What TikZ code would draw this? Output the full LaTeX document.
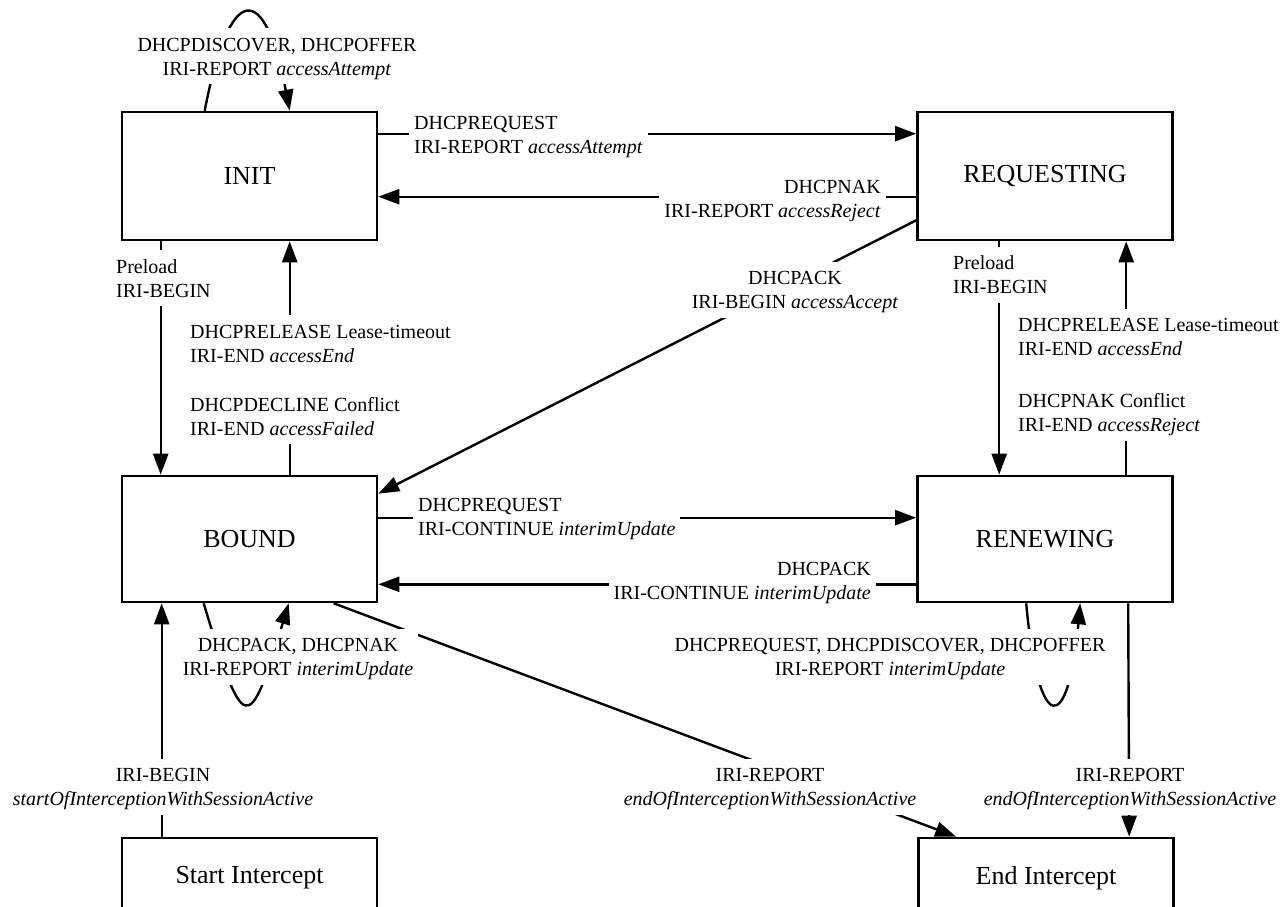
\documentclass[tikz,border=0pt]{standalone}
\usepackage{fontspec}
\setmainfont{Liberation Serif}
\usetikzlibrary{arrows.meta,calc}
\newcommand\ltop{\rule{0pt}{21pt}}
\newcommand\lbot{\rule[-7pt]{0pt}{7pt}}
\begin{document}
\begin{tikzpicture}[x=1pt,y=-1pt,
  box/.style={draw, line width=2.6pt, minimum width=255pt, minimum height=128pt, inner sep=0pt, font=\fontsize{26}{30}\selectfont},
  lbl/.style={fill=white, inner xsep=5pt, inner ysep=2pt, font=\fontsize{20}{24}\selectfont},
  arr/.style={line width=2.4pt, -{Triangle[length=21pt,width=15pt]}},
]
\useasboundingbox (0,0) rectangle (1288,907);
% states
\node[box] (init) at (249.5,176) {INIT};
\node[box] (req) at (1045,176) {REQUESTING};
\node[box, minimum height=126pt] (bound) at (249.5,539) {BOUND};
\node[box, minimum height=126pt] (renew) at (1045,539) {RENEWING};
\node[box, minimum height=80pt] (start) at (249.5,878) {Start Intercept};
\node[box, minimum height=80pt] (end) at (1046,878) {End Intercept};
% connectors
\draw[arr] ($(init.north west)+(84,0)$) .. controls ($(init.north west)+(109,-130)$) and ($(init.north west)+(144,-130)$) .. ($(init.north west)+(169,0)$);
\draw[arr] ($(init.north east)+(0,23)$) -- ($(req.north west)+(0,23)$);
\draw[arr] ($(req.north west)+(0,86)$) -- ($(init.north east)+(0,86)$);
\draw[arr] ($(bound.north east)+(0,43)$) -- ($(renew.north west)+(0,43)$);
\draw[arr] ($(renew.south west)+(0,-19)$) -- ($(bound.south east)+(0,-19)$);
\draw[arr] ($(init.south west)+(40,0)$) -- ($(bound.north west)+(40,0)$);
\draw[arr] ($(bound.north west)+(169,0)$) -- ($(init.south west)+(169,0)$);
\draw[arr] ($(req.south west)+(83,0)$) -- ($(renew.north west)+(83,0)$);
\draw[arr] ($(renew.north west)+(210,0)$) -- ($(req.south west)+(210,0)$);
\draw[arr] ($(req.south west)+(0,-21)$) -- ($(bound.north east)+(0,19)$);
\draw[arr] ($(bound.south west)+(83,0)$) .. controls ($(bound.south west)+(123,133)$) and ($(bound.south west)+(128,133)$) .. ($(bound.south west)+(168,0)$);
\draw[arr] ($(renew.south west)+(110,0)$) .. controls ($(renew.south west)+(122,133)$) and ($(renew.south west)+(152,133)$) .. ($(renew.south west)+(164,0)$);
\draw[arr] ($(start.north west)+(41,0)$) -- ($(bound.south west)+(41,0)$);
\draw[arr] ($(bound.south west)+(213,0)$) -- ($(end.north west)+(39,0)$);
\draw[arr] ($(renew.south west)+(212,0)$) -- ($(end.north west)+(212,0)$);
% labels
\node[lbl, align=center] (l1) at (277,56) {\ltop DHCPDISCOVER, DHCPOFFER\\IRI-REPORT \textit{accessAttempt}\lbot};
\node[lbl, anchor=west, align=left] (l2) at (409,134.5) {\ltop DHCPREQUEST\\IRI-REPORT \textit{accessAttempt}\lbot};
\node[lbl, anchor=east, align=right] (l3) at (886,198.5) {\ltop DHCPNAK\\IRI-REPORT \textit{accessReject}\lbot};
\node[lbl, anchor=west, align=left] (l4) at (413,516.5) {\ltop DHCPREQUEST\\IRI-CONTINUE \textit{interimUpdate}\lbot};
\node[lbl, anchor=east, align=right] (l5) at (876,580.5) {\ltop DHCPACK\\IRI-CONTINUE \textit{interimUpdate}\lbot};
\node[lbl, anchor=west, align=left] (l6) at (111,278) {\ltop Preload\\IRI-BEGIN\lbot};
\node[lbl, anchor=west, align=left] (l7) at (185,379.5) {\ltop DHCPRELEASE Lease-timeout\\IRI-END \textit{accessEnd}\\[25pt]DHCPDECLINE Conflict\\IRI-END \textit{accessFailed}\lbot};
\node[lbl, anchor=west, align=left] (l8) at (948,274.5) {\ltop Preload\\IRI-BEGIN\lbot};
\node[lbl, anchor=west, align=left] (l9) at (1013,374.5) {\ltop DHCPRELEASE Lease-timeout\\IRI-END \textit{accessEnd}\\[28pt]DHCPNAK Conflict\\IRI-END \textit{accessReject}\lbot};
\node[lbl, align=center] (l10) at (795,289.5) {\ltop DHCPACK\\IRI-BEGIN \textit{accessAccept}\lbot};
\node[lbl, align=center] (l11) at (298,656.5) {\ltop DHCPACK, DHCPNAK\\IRI-REPORT \textit{interimUpdate}\lbot};
\node[lbl, align=center] (l12) at (890,656.5) {\ltop DHCPREQUEST, DHCPDISCOVER, DHCPOFFER\\IRI-REPORT \textit{interimUpdate}\lbot};
\node[lbl, align=center] (l13) at (163,786.5) {\ltop IRI-BEGIN\\\textit{startOfInterceptionWithSessionActive}\lbot};
\node[lbl, align=center] (l14) at (770,786.5) {\ltop IRI-REPORT\\\textit{endOfInterceptionWithSessionActive}\lbot};
\node[lbl, align=center] (l15) at (1130,786.5) {\ltop IRI-REPORT\\\textit{endOfInterceptionWithSessionActive}\lbot};
\end{tikzpicture}
\end{document}
